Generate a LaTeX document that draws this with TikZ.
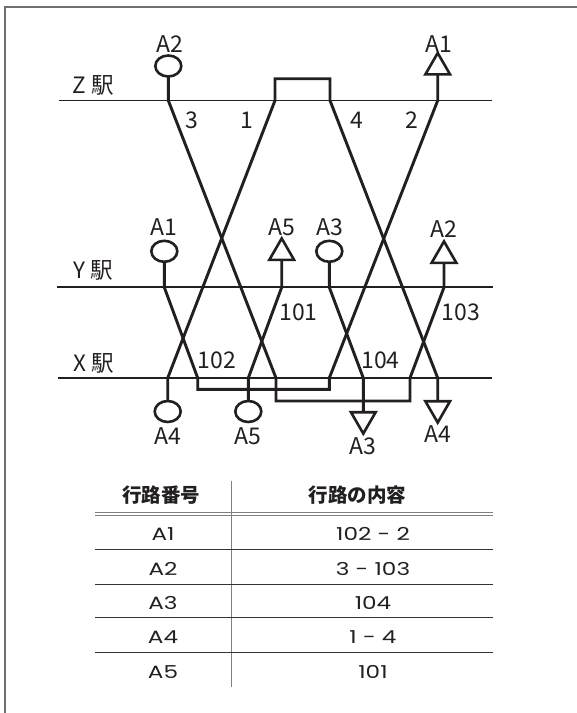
\documentclass[tikz,border=0pt]{standalone}
\usepackage{fontspec}
\newfontfamily\jp{Noto Sans CJK JP}
\newfontfamily\pop[FakeStretch=1.3]{Poppins}
\usetikzlibrary{shapes.geometric}
\definecolor{framec}{HTML}{707070}
\definecolor{tabgray}{HTML}{808080}
\definecolor{tabdark}{HTML}{333333}
\definecolor{ink}{HTML}{231F20}
\begin{document}
\begin{tikzpicture}[x=1bp,y=-1bp,
  route/.style={line width=2.9bp, draw=ink},
  station/.style={line width=1.9bp, draw=ink},
  circ/.style={draw=ink, ellipse, line width=2.6bp, minimum width=26bp, minimum height=21bp, inner sep=0pt, outer sep=0pt},
  triup/.style={draw=ink, regular polygon, regular polygon sides=3, line width=2.6bp, minimum size=28.5bp, inner sep=0pt, outer sep=0pt},
  tridown/.style={triup, shape border rotate=180},
  lbl/.style={font=\jp\fontsize{23bp}{26bp}\selectfont, text=ink, inner sep=0pt},
  stlbl/.style={font=\jp\fontsize{22.5bp}{26bp}\selectfont, text=ink, inner sep=0pt},
  thead/.style={font=\jp\bfseries\fontsize{19.5bp}{22bp}\selectfont, text=ink, inner sep=0pt},
  tcell/.style={font=\pop\fontsize{17.8bp}{22bp}\selectfont, text=ink, inner sep=0pt},
  tline/.style={line width=1.2bp, draw=tabdark},
  tgray/.style={line width=1.1bp, draw=tabgray}
]
\useasboundingbox (0,0) rectangle (577,713);
% frame
\coordinate (fTR) at (577,7.3);
\coordinate (fTL) at (5.3,7.3);
\coordinate (fBL) at (5.3,713);
\draw[framec, line width=1.8bp] (fTR) -- (fTL) -- (fBL);

% station lines
\coordinate (zL) at (59,100.5);  \coordinate (zR) at (492,100.5);
\coordinate (yL) at (57,287.3);  \coordinate (yR) at (492.7,287.3);
\coordinate (xL) at (58,378);    \coordinate (xR) at (492,378);
\draw[station] (zL) -- (zR);
\draw[station] (yL) -- (yR);
\draw[station] (xL) -- (xR);
\node[stlbl] (zlab) at (93.5,85.5) {Z 駅};
\node[stlbl] (ylab) at (93.5,270.5) {Y 駅};
\node[stlbl] (xlab) at (93.5,363) {X 駅};

% junctions
\coordinate (zA2) at (168.3,100.5);
\coordinate (zB1) at (275,100.5);
\coordinate (zB2) at (330,100.5);
\coordinate (zA1) at (437.7,100.5);
\coordinate (zB1t) at (275,78.8);
\coordinate (zB2t) at (330,78.8);
\coordinate (yA1) at (164.3,287.3);
\coordinate (yA5) at (281.7,287.3);
\coordinate (yA3) at (329.3,287.3);
\coordinate (yA2) at (444,287.3);
\coordinate (x1) at (167.7,378);
\coordinate (x102) at (197.7,378);
\coordinate (x101) at (248.3,378);
\coordinate (x3) at (276,378);
\coordinate (x2) at (329.3,378);
\coordinate (x104) at (363.3,378);
\coordinate (x103) at (410,378);
\coordinate (x4) at (437.7,378);
\coordinate (x102b) at (197.7,389.3);
\coordinate (x2b) at (329.3,389.3);
\coordinate (x3b) at (276,401);
\coordinate (x103b) at (410,401);

% symbols
\node[circ] (sZA2) at (168.3,66) {};
\node[triup, anchor=side 2] (sZA1) at (437.7,74.4) {};
\node[circ] (sYA1) at (164.3,251.3) {};
\node[triup, anchor=side 2] (sYA5) at (281.7,259.8) {};
\node[circ] (sYA3) at (329.3,251.3) {};
\node[triup, anchor=side 2] (sYA2) at (444,262.8) {};
\node[circ] (sXA4c) at (167.7,411.5) {};
\node[circ] (sXA5c) at (248.3,411.5) {};
\node[tridown, anchor=side 2] (sXA3t) at (363.3,412.2) {};
\node[tridown, anchor=side 2] (sXA4t) at (437.7,401.2) {};

% symbol labels
\node[lbl] (lZA2) at (170,44) {A2};
\node[lbl] (lZA1) at (439,44) {A1};
\node[lbl] (lYA1) at (164,227) {A1};
\node[lbl] (lYA5) at (281.5,227) {A5};
\node[lbl] (lYA3) at (329.5,227) {A3};
\node[lbl] (lYA2) at (444,229) {A2};
\node[lbl] (lXA4) at (167.7,436) {A4};
\node[lbl] (lXA5) at (248.3,436) {A5};
\node[lbl] (lXA3) at (363.3,446) {A3};
\node[lbl] (lXA4b) at (438,434) {A4};

% route labels
\node[lbl] (n3) at (191.7,120) {3};
\node[lbl] (n1) at (247,120) {1};
\node[lbl] (n4) at (357,120) {4};
\node[lbl] (n2) at (412,120) {2};
\node[lbl] (n101) at (298.5,312.7) {101};
\node[lbl] (n103) at (461,312.7) {103};
\node[lbl] (n102) at (217,360) {102};
\node[lbl] (n104) at (380.5,360) {104};

% routes
\draw[route] (sZA2.south) -- (zA2) -- (x3) -- (x3b) -- (x103b) -- (x103) -- (yA2) -- (sYA2.side 2);
\draw[route] (sYA1.south) -- (yA1) -- (x102) -- (x102b) -- (x2b) -- (x2) -- (zA1) -- (sZA1.side 2);
\draw[route] (sYA3.south) -- (yA3) -- (x104) -- (sXA3t.side 2);
\draw[route] (sXA4c.north) -- (x1) -- (zB1) -- (zB1t) -- (zB2t) -- (zB2) -- (x4) -- (sXA4t.side 2);
\draw[route] (sYA5.side 2) -- (yA5) -- (x101) -- (sXA5c.north);

% table
\coordinate (tdT) at (231.7,480.7); \coordinate (tdB) at (231.7,686.7);
\draw[tgray, line width=1.4bp] (tdT) -- (tdB);
\coordinate (h1L) at (95,512.3); \coordinate (h1R) at (492.7,512.3);
\coordinate (h2L) at (95,515.9); \coordinate (h2R) at (492.7,515.9);
\draw[tgray] (h1L) -- (h1R);
\draw[tgray] (h2L) -- (h2R);
\foreach \yy/\nm in {549.3/r1,584.3/r2,617.7/r3,652.3/r4}{
  \coordinate (\nm L) at (95,\yy); \coordinate (\nm R) at (492.7,\yy);
  \draw[tline] (\nm L) -- (\nm R);
}
\node[thead] (th1) at (161,495) {行路番号};
\node[thead] (th2) at (357.5,495) {行路の内容};
\node[tcell] (c11) at (163,534) {A1};
\node[tcell] (c12) at (373,534) {102 - 2};
\node[tcell] (c21) at (163,568.5) {A2};
\node[tcell] (c22) at (373,568.5) {3 - 103};
\node[tcell] (c31) at (163,602.7) {A3};
\node[tcell] (c32) at (373,602.7) {104};
\node[tcell] (c41) at (163,637.3) {A4};
\node[tcell] (c42) at (373,637.3) {1 - 4};
\node[tcell] (c51) at (163,671.7) {A5};
\node[tcell] (c52) at (373,671.7) {101};
\end{tikzpicture}
\end{document}
